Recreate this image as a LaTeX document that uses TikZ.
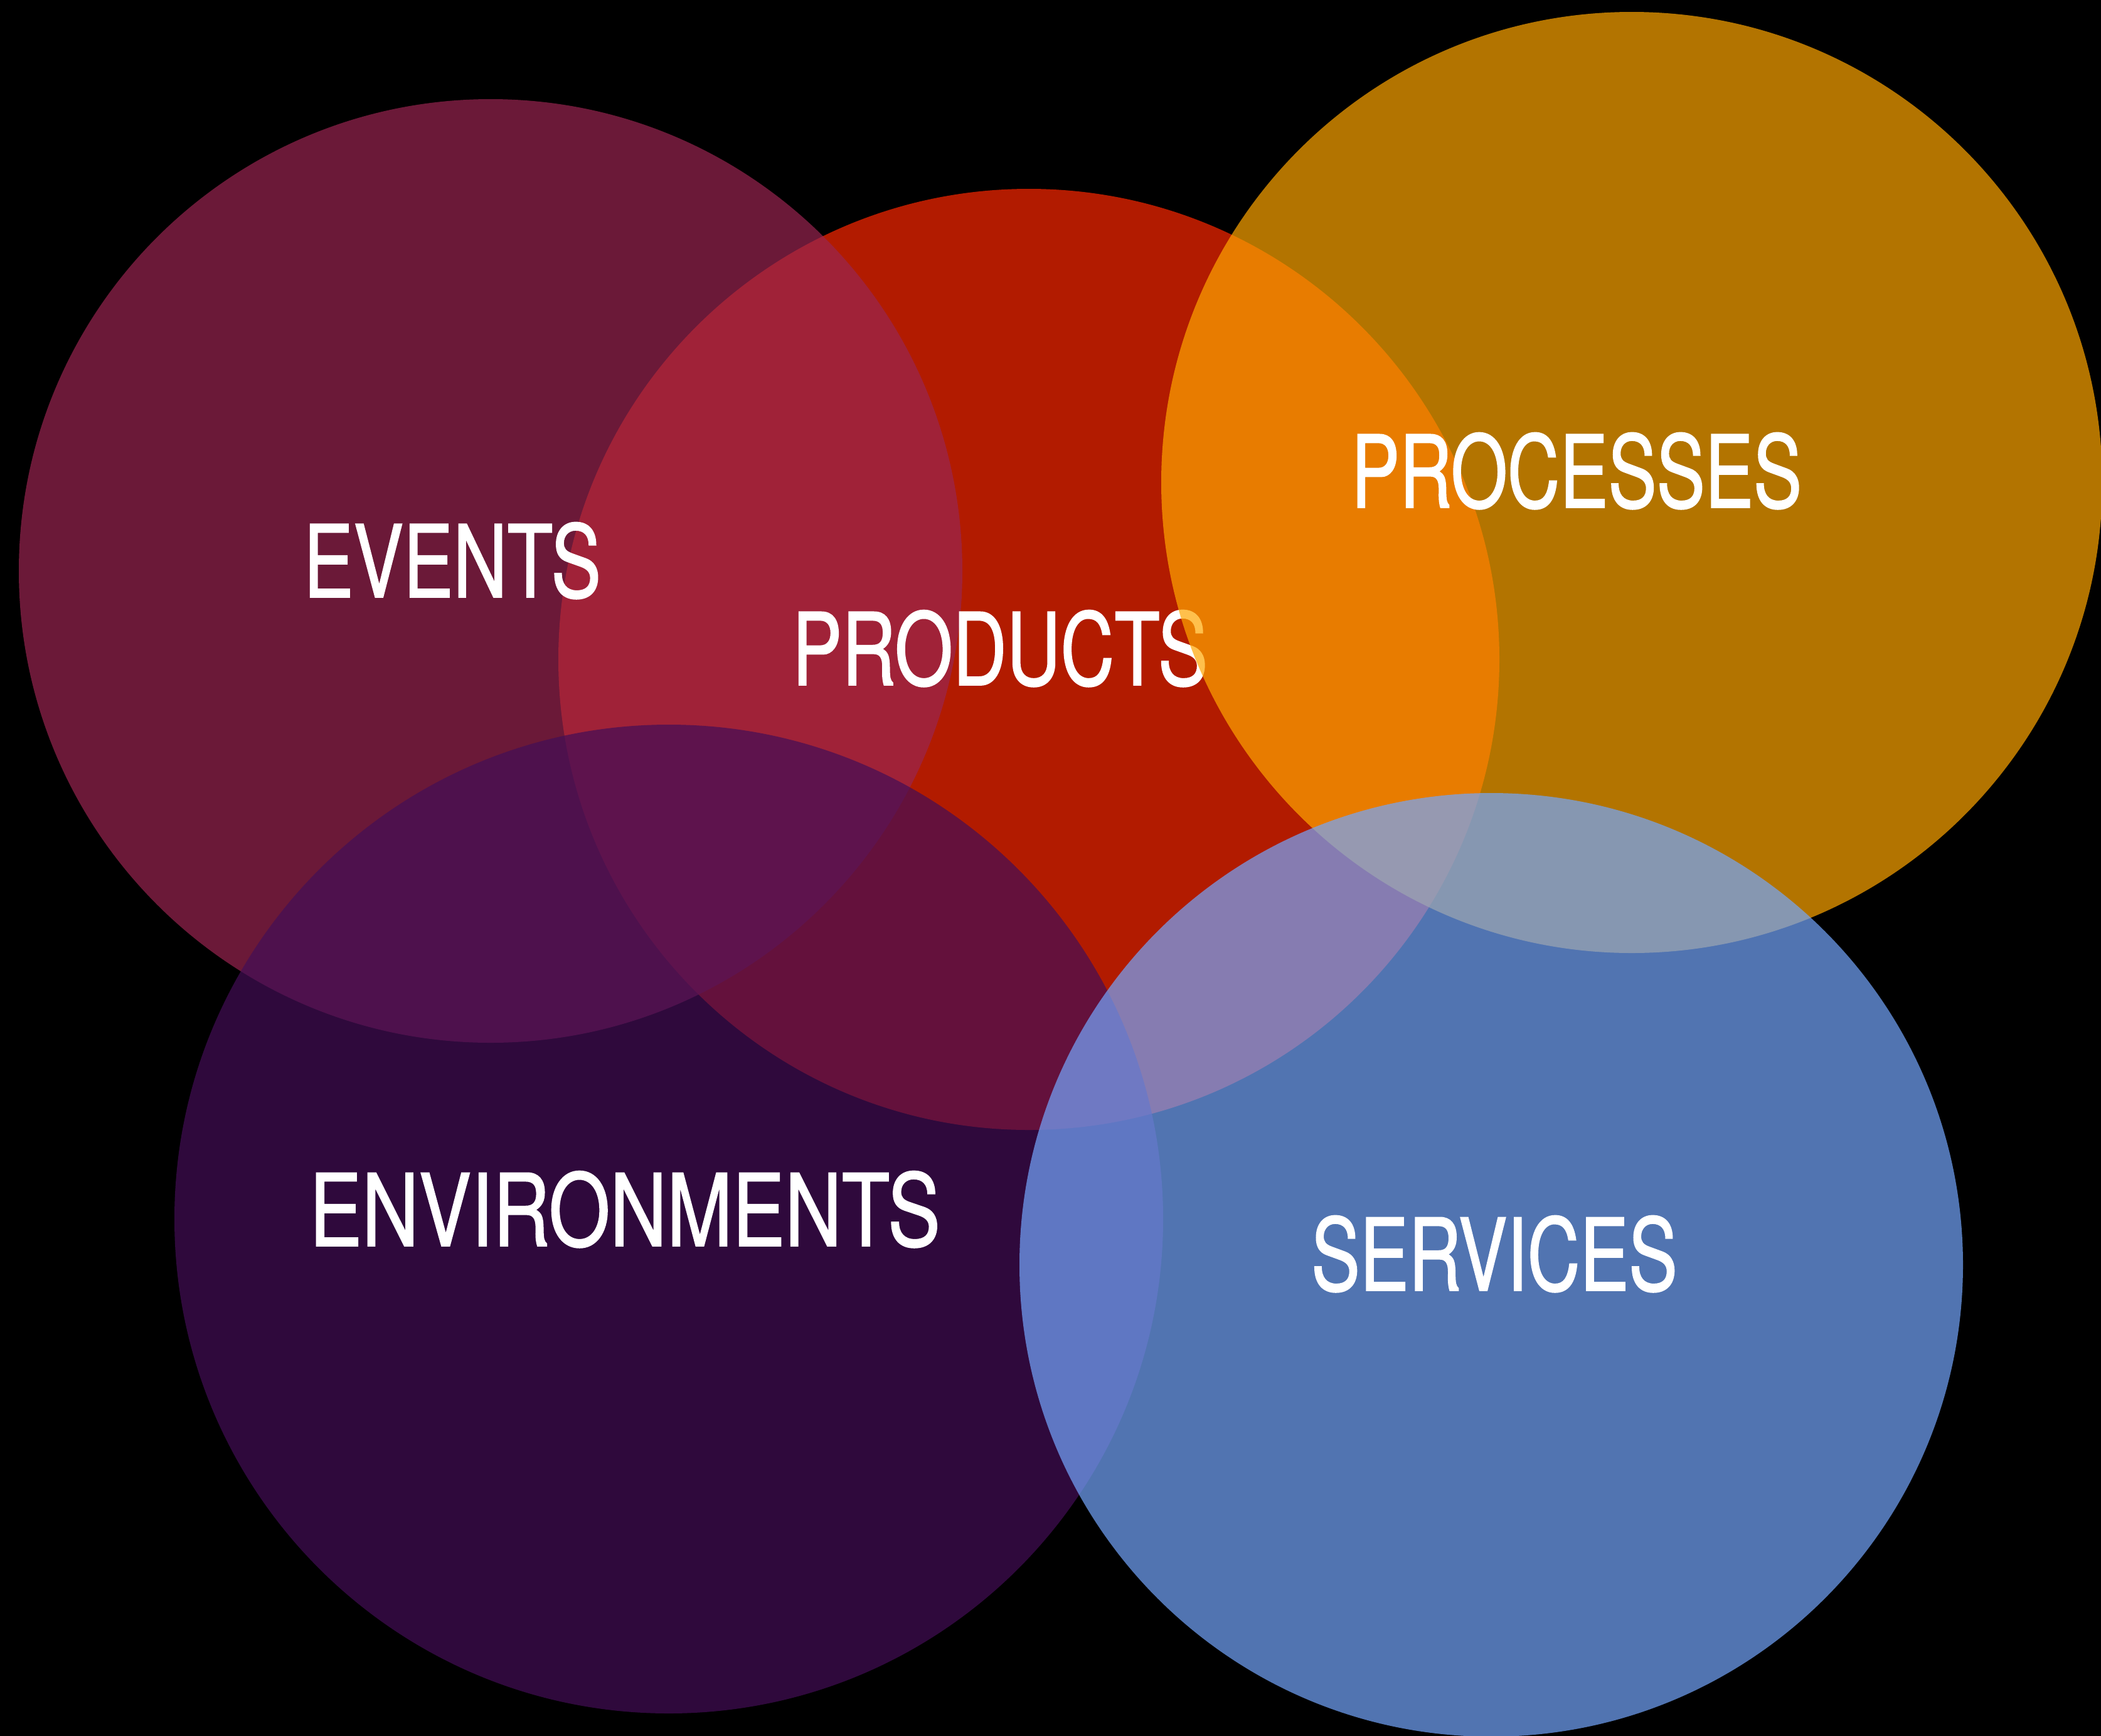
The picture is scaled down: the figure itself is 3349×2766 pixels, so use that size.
\documentclass[tikz,border=0pt]{standalone}
\usepackage{fontspec}
\setmainfont{TeX Gyre Heros}[FakeBold=1.1]
\definecolor{cEvents}{RGB}{153,37,80}
\definecolor{cProducts}{RGB}{254,39,0}
\definecolor{cProcesses}{RGB}{255,166,0}
\definecolor{cEnv}{RGB}{67,14,86}
\definecolor{cServices}{RGB}{116,166,253}
\newcommand{\wordat}[2]{{\addfontfeature{FakeStretch=#1}#2}}
\begin{document}
\begin{tikzpicture}[x=1pt,y=-1pt,
  blob/.style={circle, inner sep=0pt, draw=none, fill opacity=0.7},
  lbl/.style={inner sep=0pt, anchor=base, text=white,
    font=\fontsize{160pt}{170pt}\selectfont}]
\useasboundingbox (0,0) rectangle (3349,2766);
\fill[black] (-20,-20) rectangle (3369,2786);
\node[blob, fill=cProducts, minimum size=1500pt] (products) at (1640,1051) {};
\node[blob, fill=cEvents, minimum size=1504pt] (events) at (782,910) {};
\node[lbl] (tevents) at (721,952) {\wordat{0.745}{EVENTS}};
\node[lbl] (tproducts) at (1594,1092) {\wordat{0.743}{PRODUCTS}};
\node[blob, fill=cEnv, minimum size=1576pt] (env) at (1066,1943) {};
\node[blob, fill=cProcesses, minimum size=1500pt] (processes) at (2601,769) {};
\node[blob, fill=cServices, minimum size=1504pt] (services) at (2377,2016) {};
\node[lbl] (tprocesses) at (2513,809) {\wordat{0.723}{PROCESSES}};
\node[lbl] (tenv) at (996,1986) {\wordat{0.784}{ENVIRONMENTS}};
\node[lbl] (tservices) at (2382,2057) {\wordat{0.727}{SERVICES}};
\end{tikzpicture}
\end{document}
